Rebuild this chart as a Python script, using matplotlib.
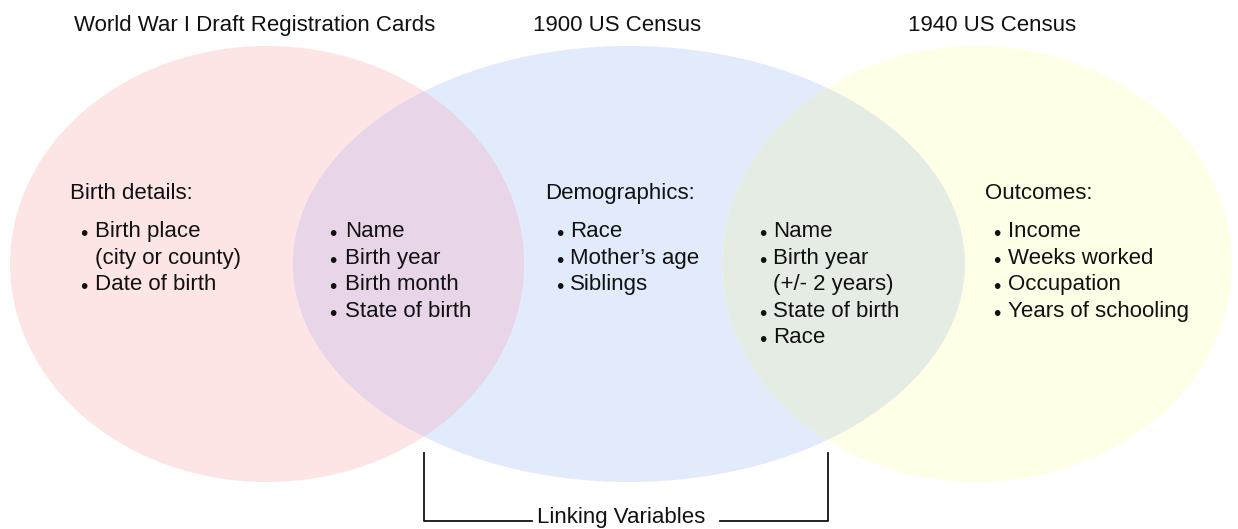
import matplotlib.pyplot as plt
from matplotlib.patches import Ellipse

plt.rcParams['font.family'] = ['Liberation Sans', 'DejaVu Sans']

# ------------------------
# Data: titles, headings and listed variables
# ------------------------
titles = ["World War I Draft Registration Cards", "1900 US Census", "1940 US Census"]
headings = ["Birth details:", None, "Demographics:", None, "Outcomes:"]
items = [
    [("Birth place", True), ("(city or county)", False), ("Date of birth", True)],
    [("Name", True), ("Birth year", True), ("Birth month", True), ("State of birth", True)],
    [("Race", True), ("Mother\u2019s age", True), ("Siblings", True)],
    [("Name", True), ("Birth year", True), ("(+/- 2 years)", False),
     ("State of birth", True), ("Race", True)],
    [("Income", True), ("Weeks worked", True), ("Occupation", True),
     ("Years of schooling", True)],
]
bracket_label = "Linking Variables"

# ------------------------
# Layout (pixel coordinates of the 1238x529 canvas)
# ------------------------
W, H = 1238, 529
ellipses = [  # (cx, cy, width, height)
    (267, 264, 514, 436),
    (629, 264, 672, 436),
    (977, 264, 510, 436),
]
fill = ["#fde5e5", "#e1ebfb", "#fffee6"]
overlap = ["#e8d5e8", "#e4ece4"]
title_x = [255, 617, 992]
col_dot_x = [84, 333, 560, 763, 997]
col_text_x = [95, 345, 570, 773, 1008]
heading_x = [70, None, 545, None, 985]
heading_y = 199
first_y = 237
line_h = 26.6
fs = 16

fig = plt.figure(figsize=(W / 100, H / 100), dpi=100)
ax = fig.add_axes([0, 0, 1, 1])
ax.set_xlim(0, W)
ax.set_ylim(H, 0)
ax.axis("off")

patches = []
for (cx, cy, w, h), c in zip(ellipses, fill):
    p = Ellipse((cx, cy), w, h, facecolor=c, edgecolor="none", zorder=1)
    ax.add_patch(p)
    patches.append(p)

# overlap regions, clipped to the neighbouring ellipse
for i, c in enumerate(overlap):
    cx, cy, w, h = ellipses[i]
    o = Ellipse((cx, cy), w, h, facecolor=c, edgecolor="none", zorder=2)
    ax.add_patch(o)
    o.set_clip_path(patches[i + 1])

for t, x in zip(titles, title_x):
    ax.text(x, 31, t, ha="center", va="baseline", fontsize=fs, color="#111111")

for k in range(5):
    if headings[k]:
        ax.text(heading_x[k], heading_y, headings[k], ha="left", va="baseline",
                fontsize=fs, color="#111111")
    for j, (label, bullet) in enumerate(items[k]):
        y = first_y + j * line_h
        if bullet:
            ax.text(col_dot_x[k], y + 3, "\u2022", ha="center", va="baseline",
                    fontsize=15, color="#111111")
        ax.text(col_text_x[k], y, label, ha="left", va="baseline",
                fontsize=fs, color="#111111")

# bracket for the linking variables
ax.plot([424, 424, 532], [453, 521, 521], color="#111111", lw=1.3, zorder=3)
ax.plot([720, 828, 828], [521, 521, 453], color="#111111", lw=1.3, zorder=3)
ax.text(621, 523, bracket_label, ha="center", va="baseline", fontsize=fs,
        color="#111111")

fig.savefig("out.png", dpi=100)
